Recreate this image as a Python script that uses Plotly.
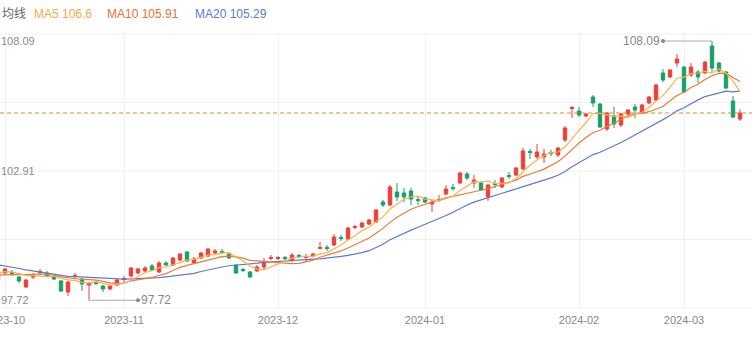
import numpy as np
import plotly.graph_objects as go

# ---------------- data ----------------
month_tick_idx = [1, 18, 40, 61, 83, 98]
month_labels = ["2023-10", "2023-11", "2023-12", "2024-01", "2024-02", "2024-03"]

# closes before the visible window (only used to warm up the moving averages)
prior_closes = [99.80, 99.72, 99.65, 99.58, 99.62, 99.50, 99.45, 99.40, 99.38, 99.30,
                98.95, 98.70, 98.55, 98.50, 98.55, 98.70, 98.85, 98.90, 98.79]

opens = [98.53, 98.81, 98.83, 98.65, 98.25, 98.65, 98.83, 98.81, 98.65, 98.49,
         98.05, 98.67, 98.57, 98.33, 98.43, 98.29, 98.17, 98.33, 98.55, 98.69,
         98.81, 98.89, 99.09, 98.85, 99.21, 99.13, 99.33, 99.65, 99.21, 99.41,
         99.49, 99.61, 99.67, 99.57, 99.13, 98.95, 98.85, 98.89, 99.05, 99.39,
         99.39, 99.43, 99.33, 99.51, 99.43, 99.49, 99.79, 99.83, 99.93, 100.23,
         100.17, 100.63, 100.65, 100.77, 100.85, 101.65, 101.53, 102.05, 102.01, 102.09,
         101.75, 101.81, 101.57, 101.71, 101.97, 102.23, 102.41, 102.77, 102.41, 102.41,
         101.85, 102.39, 102.25, 102.71, 102.73, 102.97, 103.67, 103.45, 103.45, 103.63,
         103.53, 104.13, 105.39, 105.29, 105.09, 105.85, 105.57, 104.57, 105.09, 104.73,
         105.17, 105.45, 105.21, 105.61, 105.73, 106.81, 106.65, 107.21, 107.05, 106.73,
         106.85, 106.81, 107.89, 107.21, 106.85, 105.69, 104.97]

highs = [98.89, 99.01, 98.93, 98.69, 98.57, 98.81, 98.97, 98.89, 98.73, 98.53,
         98.49, 98.81, 98.61, 98.45, 98.49, 98.33, 98.33, 98.57, 98.69, 99.05,
         99.01, 99.09, 99.17, 99.29, 99.29, 99.45, 99.61, 99.69, 99.45, 99.65,
         99.81, 99.77, 99.77, 99.61, 99.17, 99.01, 98.89, 99.13, 99.41, 99.53,
         99.49, 99.49, 99.61, 99.57, 99.57, 99.61, 100.05, 99.93, 100.37, 100.33,
         100.65, 100.73, 100.85, 100.97, 101.37, 101.73, 102.33, 102.41, 102.21, 102.21,
         101.85, 101.85, 101.73, 101.93, 102.33, 102.37, 102.85, 102.85, 102.73, 102.45,
         102.37, 102.53, 102.65, 102.85, 103.05, 103.81, 103.77, 103.97, 103.77, 103.73,
         103.85, 104.69, 105.49, 105.45, 105.21, 105.93, 105.61, 105.25, 105.45, 105.21,
         105.37, 105.57, 105.57, 105.89, 106.37, 106.97, 106.97, 107.57, 107.09, 107.21,
         106.93, 107.29, 108.09, 107.25, 106.89, 105.89, 105.37]

lows = [98.45, 98.73, 98.69, 98.41, 98.21, 98.57, 98.73, 98.65, 98.53, 98.05,
        97.89, 98.57, 98.09, 97.72, 98.33, 98.05, 98.13, 98.29, 98.41, 98.65,
        98.77, 98.85, 98.89, 98.81, 99.09, 99.09, 99.29, 99.25, 99.17, 99.37,
        99.45, 99.57, 99.57, 99.37, 98.77, 98.85, 98.61, 98.85, 98.93, 99.33,
        99.33, 99.33, 99.25, 99.41, 99.25, 99.45, 99.77, 99.69, 99.89, 100.09,
        100.13, 100.57, 100.61, 100.73, 100.81, 101.45, 101.49, 101.69, 101.65, 101.53,
        101.53, 101.61, 101.25, 101.65, 101.93, 102.09, 102.37, 102.53, 102.21, 102.09,
        101.69, 102.21, 102.21, 102.57, 102.69, 102.93, 103.37, 103.37, 103.21, 103.49,
        103.45, 104.05, 105.01, 105.05, 105.05, 105.45, 104.61, 104.49, 104.61, 104.65,
        105.13, 105.01, 105.17, 105.57, 105.69, 106.45, 106.61, 107.05, 106.01, 106.65,
        106.41, 106.77, 106.85, 106.85, 106.17, 105.01, 104.89]

closes = [98.81, 98.97, 98.79, 98.49, 98.53, 98.73, 98.87, 98.69, 98.57, 98.09,
          98.45, 98.71, 98.37, 98.41, 98.39, 98.17, 98.29, 98.53, 98.59, 99.01,
          98.97, 99.01, 98.93, 99.21, 99.13, 99.41, 99.57, 99.29, 99.37, 99.61,
          99.77, 99.69, 99.63, 99.41, 98.81, 98.91, 98.65, 99.05, 99.25, 99.43,
          99.43, 99.39, 99.53, 99.47, 99.47, 99.57, 99.83, 99.79, 100.25, 100.19,
          100.61, 100.67, 100.81, 100.93, 101.33, 101.53, 102.25, 101.85, 101.85, 101.77,
          101.71, 101.65, 101.65, 101.75, 102.17, 102.19, 102.81, 102.61, 102.53, 102.13,
          102.33, 102.35, 102.61, 102.67, 103.01, 103.69, 103.63, 103.65, 103.57, 103.59,
          103.81, 104.61, 105.43, 105.13, 105.17, 105.61, 104.65, 105.21, 104.77, 105.17,
          105.33, 105.33, 105.53, 105.85, 106.33, 106.53, 106.93, 107.37, 106.05, 107.05,
          106.65, 107.25, 107.01, 106.89, 106.21, 105.05, 105.21]

legend_items = [("均线", "#666666"), ("MA5 106.6", "#f5a94a"),
                ("MA10 105.91", "#ec6f3c"), ("MA20 105.29", "#5b7bd8")]

# ---------------- derived ----------------
n = len(closes)
idx = list(range(n))
all_c = np.array(prior_closes + closes)
p = len(prior_closes)


def moving_avg(w):
    return [float(np.mean(all_c[p + i - w + 1:p + i + 1])) for i in range(n)]


ma5, ma10, ma20 = moving_avg(5), moving_avg(10), moving_avg(20)

W, H = 752, 341
ML, MR, MT, MB = 0, 0, 34, 33
plot_w = W - ML - MR
plot_h = H - MT - MB
px_per_bar = 7.0
x0 = 2 / px_per_bar
x1 = x0 + plot_w / px_per_bar

hi, lo = max(highs), min(lows)
ppu = 25.0  # pixels per unit
y_top = hi + 7 / ppu
y_bot = y_top - plot_h / ppu
mid = (hi + lo) / 2

fig = go.Figure()

fig.add_trace(go.Candlestick(
    x=idx, open=opens, high=highs, low=lows, close=closes,
    increasing=dict(line=dict(color="#ee3e3e", width=1), fillcolor="#ee3e3e"),
    decreasing=dict(line=dict(color="#18a069", width=1), fillcolor="#18a069"),
    whiskerwidth=0, showlegend=False, hoverinfo="skip",
))

for vals, col in [(ma20, "#5b7bd8"), (ma10, "#ec7b3a"), (ma5, "#f6b449")]:
    fig.add_trace(go.Scatter(x=idx, y=vals, mode="lines",
                             line=dict(color=col, width=1.2),
                             showlegend=False, hoverinfo="skip"))

# max / min markers
imax = int(np.argmax(highs))
imin = int(np.argmin(lows))
off = 7
fig.add_trace(go.Scatter(x=[imax - off, imax], y=[hi, hi], mode="lines",
                         line=dict(color="#aaaaaa", width=1), showlegend=False, hoverinfo="skip"))
fig.add_trace(go.Scatter(x=[imin, imin + off], y=[lo, lo], mode="lines",
                         line=dict(color="#aaaaaa", width=1), showlegend=False, hoverinfo="skip"))
fig.add_trace(go.Scatter(x=[imax - off, imin + off], y=[hi, lo], mode="markers",
                         marker=dict(color="#888888", size=4), showlegend=False, hoverinfo="skip"))

annotations = []
annotations.append(dict(x=imax - off, y=hi, xref="x", yref="y", text=f"{hi:.2f}",
                        showarrow=False, xanchor="right", yanchor="middle", xshift=-1,
                        font=dict(size=12, color="#888888", family="Liberation Sans, Arial")))
annotations.append(dict(x=imin + off, y=lo, xref="x", yref="y", text=f"{lo:.2f}",
                        showarrow=False, xanchor="left", yanchor="middle", xshift=1,
                        font=dict(size=12, color="#888888", family="Liberation Sans, Arial")))

# y labels (max, mid, min)
for v in [hi, mid, lo]:
    annotations.append(dict(x=0, y=v, xref="paper", yref="y", text=f"{v:.2f}",
                            showarrow=False, xanchor="left", yanchor="middle", xshift=-1,
                            font=dict(size=11, color="#8a8a8a", family="Liberation Sans, Arial")))

# legend row
leg_x = [0, 32, 105, 193]
for (txt, col), lx in zip(legend_items, leg_x):
    annotations.append(dict(x=lx / W, y=1 + (MT - 14) / plot_h, xref="paper", yref="paper",
                            text=txt, showarrow=False, xanchor="left", yanchor="middle",
                            font=dict(size=12, color=col,
                                      family="Liberation Sans, Noto Sans CJK SC, Arial")))

shapes = []
for f in [0, 0.25, 0.5, 0.75, 1.0]:
    shapes.append(dict(type="line", xref="paper", yref="paper", x0=0, x1=1, y0=f, y1=f,
                       line=dict(color="#f0f0f0", width=1), layer="below"))
shapes.append(dict(type="line", xref="paper", yref="y", x0=0, x1=1,
                   y0=closes[-1], y1=closes[-1],
                   line=dict(color="#e8892a", width=1.2, dash="4px,3px")))

fig.update_layout(
    width=W, height=H, autosize=False,
    margin=dict(l=ML, r=MR, t=MT, b=MB, pad=0, autoexpand=False),
    paper_bgcolor="white", plot_bgcolor="white",
    annotations=annotations, shapes=shapes,
    xaxis=dict(range=[x0, x1], tickmode="array", tickvals=month_tick_idx, ticktext=month_labels,
               showgrid=True, gridcolor="#f0f0f0", gridwidth=1, zeroline=False, showline=False,
               ticks="", tickfont=dict(size=11, color="#888888", family="Liberation Sans, Arial"),
               ticklabeloverflow="allow", ticklabelstandoff=4, automargin=False,
               rangeslider=dict(visible=False)),
    yaxis=dict(range=[y_bot, y_top], showgrid=False, zeroline=False, showticklabels=False,
               showline=False, ticks="", automargin=False),
    font=dict(family="Liberation Sans, Arial"),
)

fig.write_html("out.html")
